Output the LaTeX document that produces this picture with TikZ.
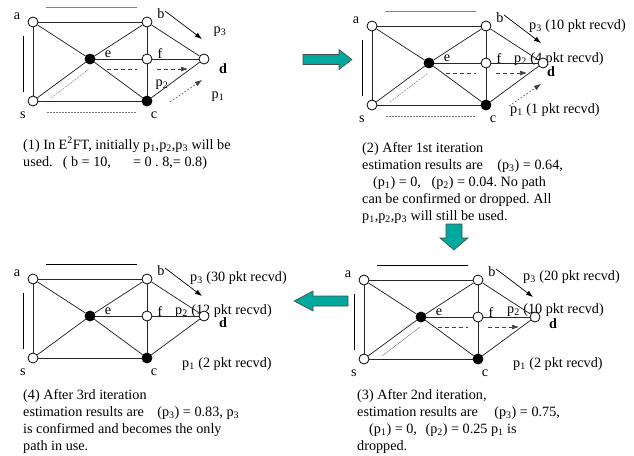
\documentclass[tikz,border=0pt]{standalone}
\usepackage{fontspec}
\setmainfont{Liberation Serif}
\usetikzlibrary{arrows.meta}
\definecolor{tealfill}{HTML}{00A99D}
\newcommand{\pth}[1]{p\textsubscript{#1}}
\frenchspacing

\begin{document}
\begin{tikzpicture}[
        x=1pt, y=-1pt,
        font=\fontsize{14.2}{17}\selectfont,
        vtx/.style={draw, circle, fill=white, minimum size=10pt, inner sep=0pt, line width=0.8pt},
        hub/.style={vtx, fill=black},
        lbl/.style={inner sep=0pt},
        plbl/.style={anchor=west, inner sep=0pt},
        link/.style={line width=0.75pt, black!85},
        patharrow/.style={-{Latex[length=7pt,width=5pt]}, line width=0.7pt},
        dasharrow/.style={-{Latex[length=7pt,width=5pt]}, dash pattern=on 4pt off 3pt, line width=0.6pt, black!75},
        dashseg/.style={dash pattern=on 4pt off 3pt, line width=0.6pt, black!75},
        guide/.style={line width=0.4pt, black!55, dash pattern=on 2pt off 1pt},
        caption/.style={anchor=north west, align=left, inner sep=0pt},
        bigarrow/.style={draw=black!70, fill=tealfill, line width=0.6pt}
    ]
    \useasboundingbox (0,0) rectangle (634,455);

    % path labels (drawn first, the circles sit on top)
    \node[lbl] (p3a) at (220,32) {p\textsubscript{3}};
    \node[lbl] (p2a) at (162,85) {p\textsubscript{2}};
    \node[lbl] (p1a) at (218,97) {p\textsubscript{1}};
    \node[plbl] (p3b) at (529,26) {\pth3 (10 pkt recvd)};
    \node[plbl] (p2b) at (514,59) {\pth2 (4 pkt recvd)};
    \node[plbl] (p1b) at (510,110) {\pth1 (1 pkt recvd)};
    \node[plbl] (p3c) at (523,277) {\pth3 (20 pkt recvd)};
    \node[plbl] (p2c) at (507,310) {\pth2 (10 pkt recvd)};
    \node[plbl] (p1c) at (513,364) {\pth1 (2 pkt recvd)};
    \node[plbl] (p3d) at (190,278) {\pth3 (30 pkt recvd)};
    \node[plbl] (p2d) at (175,311) {\pth2 (12 pkt recvd)};
    \node[plbl] (p1d) at (182,364) {\pth1 (2 pkt recvd)};

    % the four copies of the network
    \foreach \pn/\dx/\dy/\tc/\dlx/\dly in {1/0/0/black!50/223/69, 2/339/4/black!50/212/68,
                                          3/331/258/black/222/66, 4/0/257/black/223/66}{
      \begin{scope}[shift={(\dx,\dy)}]
        \node[vtx] (a\pn) at (33,22) {};
        \node[vtx] (b\pn) at (147,22) {};
        \node[hub] (e\pn) at (90,59) {};
        \node[vtx] (f\pn) at (147,59) {};
        \node[vtx] (d\pn) at (204,59) {};
        \node[vtx] (s\pn) at (33,101) {};
        \node[hub] (c\pn) at (147,101) {};

        \draw[link] (a\pn) -- (b\pn);
        \draw[link] (a\pn) -- (s\pn);
        \draw[link] (a\pn) -- (e\pn);
        \draw[link] (b\pn) -- (e\pn);
        \draw[link] (b\pn) -- (f\pn);
        \draw[link] (b\pn) -- (d\pn);
        \draw[link] (e\pn) -- (f\pn);
        \draw[link] (f\pn) -- (d\pn);
        \draw[link] (e\pn) -- (s\pn);
        \draw[link] (e\pn) -- (c\pn);
        \draw[link] (s\pn) -- (c\pn);
        \draw[link] (f\pn) -- (c\pn);
        \draw[link] (c\pn) -- (d\pn);

        \node[lbl] (la\pn) at (17,16) {a};
        \node[lbl] (lb\pn) at (161,14) {b};
        \node[lbl] (le\pn) at (108,54) {e};
        \node[lbl] (lf\pn) at (160,54) {f};
        \node[lbl] (ls\pn) at (23,115) {s};
        \node[lbl] (lc\pn) at (154,115) {c};
        \node[lbl] (ld\pn) at (\dlx,\dly) {\textbf{d}};

        \draw[line width=0.9pt, \tc] (46,7) -- (137,7);
        \draw[line width=0.9pt] (23,36) -- (23,92);

        \coordinate (p3s\pn) at (165,11);
        \coordinate (p3e\pn) at (202,39);
        \coordinate (q1s\pn) at (107,69);
        \coordinate (q1e\pn) at (137,69);
        \coordinate (q2s\pn) at (157,69);
        \coordinate (q2e\pn) at (188,69);
        \coordinate (r1s\pn) at (170,102);
        \coordinate (r1e\pn) at (202,80);
        \coordinate (g1s\pn) at (51,98);
        \coordinate (g1e\pn) at (89,69);
        \coordinate (h1s\pn) at (47,112);
        \coordinate (h1e\pn) at (137,112);

        \draw[patharrow] (p3s\pn) -- (p3e\pn);
      \end{scope}
    }

    % routes still in use
    \foreach \pn in {1,2,3}{
      \draw[dashseg] (q1s\pn) -- (q1e\pn);
      \draw[dasharrow] (q2s\pn) -- (q2e\pn);
    }
    \foreach \pn in {1,2}{
      \draw[dasharrow, line width=0.5pt, dash pattern=on 2pt off 1.5pt] (r1s\pn) -- (r1e\pn);
      \draw[guide] (g1s\pn) -- (g1e\pn);
      \draw[guide] (h1s\pn) -- (h1e\pn);
    }
    \draw[line width=0.4pt, black!55] (g1s3) -- (g1e3);

    % step arrows
    \draw[bigarrow] (303,54.5) -- (339,54.5) -- (339,49.5) -- (352,59.5)
        -- (339,69.5) -- (339,64.5) -- (303,64.5) -- cycle;
    \draw[bigarrow] (446,224) -- (462,224) -- (462,238) -- (468,238)
        -- (454,250) -- (440,238) -- (446,238) -- cycle;
    \draw[bigarrow] (348,296) -- (313,296) -- (313,291) -- (294,301)
        -- (313,311) -- (313,306) -- (348,306) -- cycle;

    % captions
    \node[caption] (cap1) at (23,137)
        {(1) In E\textsuperscript{2}FT, initially \pth1,\pth2,\pth3 will be\\
         used.\hspace*{10pt}( b = 10,\hspace{22pt}= 0 . 8,= 0.8)};
    \node[caption] (cap2) at (362,142)
        {(2) After 1st iteration\\
         estimation results are\hspace{11pt} (\pth3) = 0.64,\\
         \hspace*{11pt}(\pth1) = 0,\hspace{7pt} (\pth2) = 0.04. No path\\
         can be confirmed or dropped. All\\
         \pth1,\pth2,\pth3 will still be used.};
    \node[caption] (cap3) at (357,389)
        {(3) After 2nd iteration,\\
         estimation results are\hspace{13pt} (\pth3) = 0.75,\\
         \hspace*{12pt}(\pth1) = 0,\hspace{5pt} (\pth2) = 0.25 \pth1 is\\
         dropped.};
    \node[caption] (cap4) at (23,389)
        {(4) After 3rd iteration\\
         estimation results are\hspace{10pt} (\pth3) = 0.83, \pth3\\
         is confirmed and becomes the only\\
         path in use.};

\end{tikzpicture}
\end{document}
